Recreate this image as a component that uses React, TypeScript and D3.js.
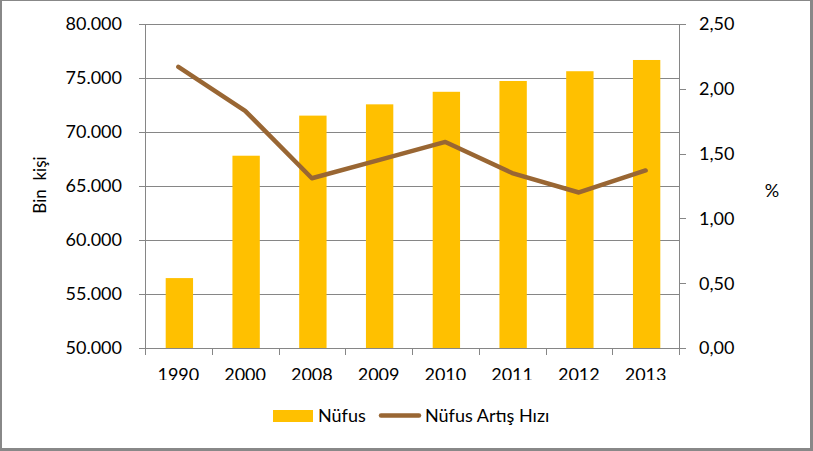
import React, { useEffect, useRef } from "react";
import * as d3 from "d3";

const years = ["1990", "2000", "2008", "2009", "2010", "2011", "2012", "2013"];
// population, thousands
const nufus = [56473, 67804, 71517, 72561, 73723, 74724, 75627, 76668];
// growth rate, %
const artisHizi = [2.17, 1.83, 1.31, 1.45, 1.59, 1.35, 1.2, 1.37];

const leftTicks = [50000, 55000, 60000, 65000, 70000, 75000, 80000];
const rightTicks = [0, 0.5, 1, 1.5, 2, 2.5];

const W = 813;
const H = 451;
const FONT = "Lato, 'Open Sans', sans-serif";

export default function App() {
  const ref = useRef<SVGSVGElement>(null);

  useEffect(() => {
    const svg = d3.select(ref.current);
    svg.selectAll("*").remove();

    const margin = { top: 24, left: 145, right: 679, bottom: 348 };
    const grid = "#868686";

    // outer frame
    svg.append("rect").attr("width", W).attr("height", H).attr("fill", "#fff");
    svg.append("rect").attr("x", 0).attr("y", 0).attr("width", W).attr("height", 1).attr("fill", "#888");
    svg.append("rect").attr("x", 0).attr("y", 0).attr("width", 2).attr("height", H).attr("fill", "#888");
    svg.append("rect").attr("x", W - 3).attr("y", 0).attr("width", 3).attr("height", H).attr("fill", "#888");
    svg.append("rect").attr("x", 0).attr("y", H - 3).attr("width", W).attr("height", 3).attr("fill", "#888");

    const x = d3.scaleBand().domain(years).range([margin.left, margin.right]).padding(0);
    const yL = d3.scaleLinear().domain([50000, 80000]).range([margin.bottom, margin.top]);
    const yR = d3.scaleLinear().domain([0, 2.5]).range([margin.bottom, margin.top]);

    // gridlines + left ticks
    svg
      .selectAll(".grid")
      .data(leftTicks)
      .enter()
      .append("line")
      .attr("x1", margin.left - 6)
      .attr("x2", margin.right)
      .attr("y1", (d) => yL(d) + 0.5)
      .attr("y2", (d) => yL(d) + 0.5)
      .attr("stroke", grid)
      .attr("stroke-width", 1);

    svg
      .selectAll(".lLabel")
      .data(leftTicks)
      .enter()
      .append("text")
      .attr("x", 122)
      .attr("y", (d) => yL(d))
      .attr("dy", "0.35em")
      .attr("text-anchor", "end")
      .style("font-family", FONT)
      .style("font-size", "18px")
      .text((d) => d3.format(",")(d).replace(/,/g, "."));

    // bars
    const barW = x.bandwidth() * 0.41;
    svg
      .selectAll(".bar")
      .data(nufus)
      .enter()
      .append("rect")
      .attr("x", (d, i) => x(years[i])! + x.bandwidth() / 2 - barW / 2 + 1)
      .attr("y", (d) => yL(d))
      .attr("width", barW)
      .attr("height", (d) => margin.bottom - yL(d))
      .attr("fill", "#FFC000");

    // axes lines
    svg.append("line").attr("x1", margin.left + 0.5).attr("x2", margin.left + 0.5)
      .attr("y1", margin.top).attr("y2", margin.bottom + 7).attr("stroke", grid);
    svg.append("line").attr("x1", margin.right + 0.5).attr("x2", margin.right + 0.5)
      .attr("y1", margin.top).attr("y2", margin.bottom + 7).attr("stroke", grid);

    // x ticks at band edges
    svg
      .selectAll(".xtick")
      .data(years.slice(1))
      .enter()
      .append("line")
      .attr("x1", (d) => Math.round(x(d)!) + 0.5)
      .attr("x2", (d) => Math.round(x(d)!) + 0.5)
      .attr("y1", margin.bottom)
      .attr("y2", margin.bottom + 7)
      .attr("stroke", grid);

    // right ticks and labels
    svg
      .selectAll(".rtick")
      .data(rightTicks)
      .enter()
      .append("line")
      .attr("x1", margin.right)
      .attr("x2", margin.right + 7)
      .attr("y1", (d) => Math.round(yR(d)) + 0.5)
      .attr("y2", (d) => Math.round(yR(d)) + 0.5)
      .attr("stroke", grid);

    svg
      .selectAll(".rLabel")
      .data(rightTicks)
      .enter()
      .append("text")
      .attr("x", 699)
      .attr("y", (d) => yR(d))
      .attr("dy", "0.35em")
      .style("font-family", FONT)
      .style("font-size", "18px")
      .text((d) => d.toFixed(2).replace(".", ","));

    // x labels, bottom edge cut off like the reference
    svg.append("clipPath").attr("id", "xclip")
      .append("rect").attr("x", 0).attr("y", 355).attr("width", W).attr("height", 25);
    svg
      .append("g")
      .attr("clip-path", "url(#xclip)")
      .selectAll("text")
      .data(years)
      .enter()
      .append("text")
      .attr("x", (d) => x(d)! + x.bandwidth() / 2)
      .attr("y", 381)
      .attr("text-anchor", "middle")
      .style("font-family", FONT)
      .style("font-size", "18px")
      .text((d) => d);

    // growth line
    const line = d3
      .line<number>()
      .x((d, i) => x(years[i])! + x.bandwidth() / 2)
      .y((d) => yR(d));
    svg
      .append("path")
      .datum(artisHizi)
      .attr("d", line)
      .attr("fill", "none")
      .attr("stroke", "#996633")
      .attr("stroke-width", 4.5)
      .attr("stroke-linecap", "round")
      .attr("stroke-linejoin", "round");

    // axis titles
    svg
      .append("text")
      .attr("transform", "translate(46,185) rotate(-90)")
      .attr("text-anchor", "middle")
      .style("font-family", FONT)
      .style("font-size", "17px")
      .style("white-space", "pre")
      .text("Bin  kişi");
    svg
      .append("text")
      .attr("x", 772)
      .attr("y", 191)
      .attr("dy", "0.35em")
      .attr("text-anchor", "middle")
      .style("font-family", FONT)
      .style("font-size", "18px")
      .text("%");

    // legend
    const legend = svg.append("g");
    legend.append("rect").attr("x", 273).attr("y", 410).attr("width", 40).attr("height", 12).attr("fill", "#FFC000");
    legend.append("text").attr("x", 318).attr("y", 422).style("font-family", FONT).style("font-size", "18px").text("Nüfus");
    legend.append("line").attr("x1", 381).attr("x2", 419).attr("y1", 415.5).attr("y2", 415.5)
      .attr("stroke", "#996633").attr("stroke-width", 4.5).attr("stroke-linecap", "round");
    legend.append("text").attr("x", 425).attr("y", 422).style("font-family", FONT).style("font-size", "18px").text("Nüfus Artış Hızı");
  }, []);

  return (
    <svg
      ref={ref}
      width={W}
      height={H}
      style={{ position: "absolute", left: 0, top: 0, display: "block" }}
    />
  );
}
